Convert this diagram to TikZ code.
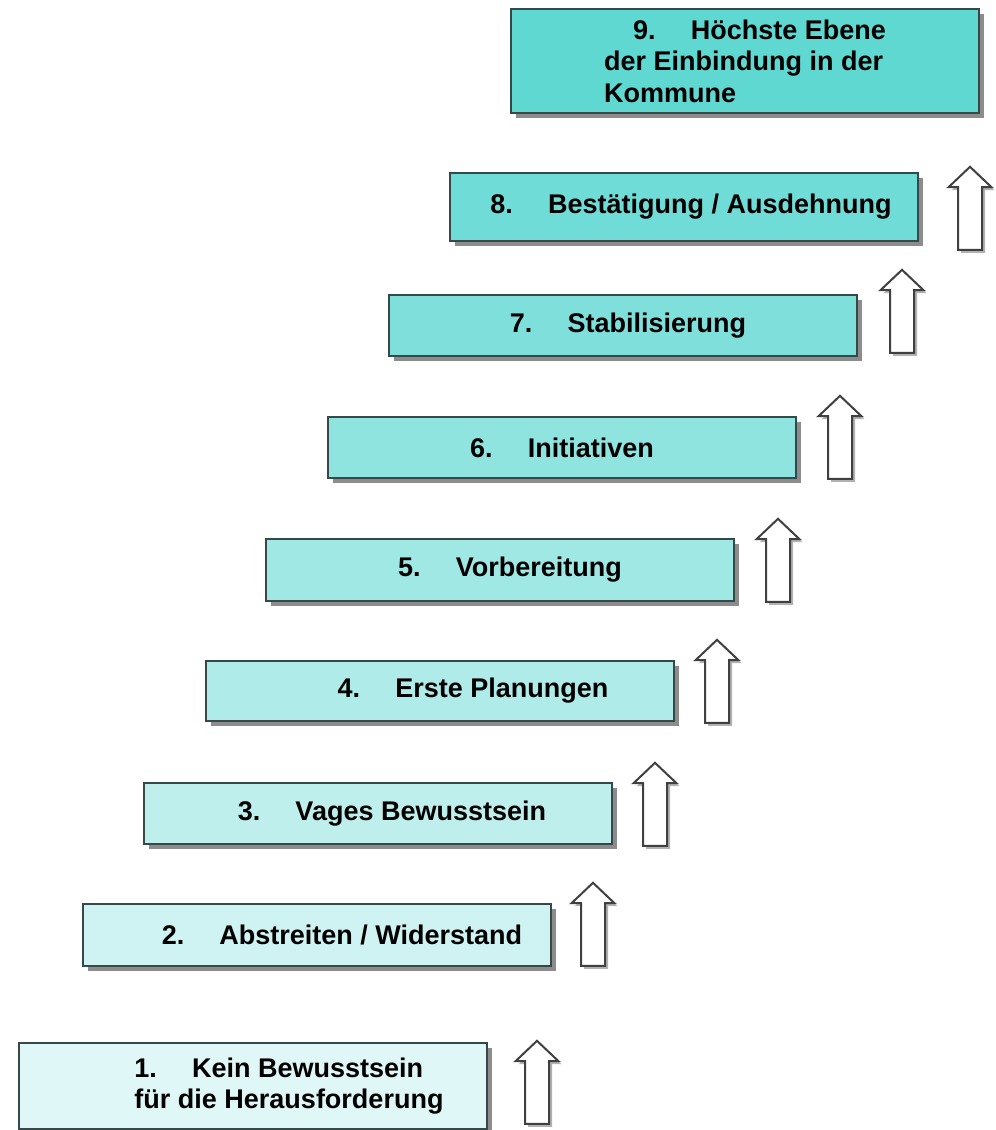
\documentclass[tikz,border=0pt]{standalone}
\usepackage{fontspec}
\setmainfont{Liberation Sans}
\usetikzlibrary{positioning,shapes.arrows,shadows}
\definecolor{turq}{RGB}{95,216,210}
\definecolor{rim}{RGB}{55,72,72}
\newcommand{\stufe}[1]{#1.\hspace{1.3em}}

\begin{document}
\begin{tikzpicture}[x=0.5pt, y=-0.5pt,
        every node/.style={font=\bfseries\fontsize{13.5}{15.8}\selectfont},
        box/.style={draw=rim, line width=1pt, anchor=north west, minimum width=234pt, align=left, inner sep=0pt,
          drop shadow={shadow xshift=2.5pt, shadow yshift=-2.5pt, fill=black!45, opacity=1}},
        uparr/.style={single arrow, shape border rotate=90, draw=black!75, fill=white, line width=1pt,
          minimum height=41.5pt, minimum width=20.5pt, single arrow head extend=4.75pt, single arrow tip angle=93, inner sep=5.5pt,
          drop shadow={shadow xshift=1.5pt, shadow yshift=-1.5pt, fill=black!30, opacity=1}}]
        \useasboundingbox (0,0) rectangle (996,1130);
        \node[box, fill=turq!20, minimum height=43pt] (s1) at (18,1042) {\hspace*{36pt}\stufe{1}Kein Bewusstsein\\\hspace*{36pt}für die Herausforderung};
        \node[box, fill=turq!30, minimum height=31pt] (s2) at (82,903) {\hspace*{25pt}\stufe{2}Abstreiten / Widerstand};
        \node[box, fill=turq!40, minimum height=30.5pt] (s3) at (143,782) {\hspace*{14pt}\stufe{3}Vages Bewusstsein};
        \node[box, fill=turq!50, minimum height=30pt] (s4) at (205,660) {\hspace*{33pt}\stufe{4}Erste Planungen};
        \node[box, fill=turq!60, minimum height=31pt] (s5) at (265,538) {\hspace*{10pt}\stufe{5}Vorbereitung};
        \node[box, fill=turq!70, minimum height=30.5pt] (s6) at (327,416) {\stufe{6}Initiativen};
        \node[box, fill=turq!80, minimum height=30.5pt] (s7) at (388,294) {\hspace*{5pt}\stufe{7}Stabilisierung};
        \node[box, fill=turq!90, minimum height=34pt] (s8) at (449,172) {\hspace*{7pt}\stufe{8}Bestätigung / Ausdehnung};
        \node[box, fill=turq, minimum height=52pt] (s9) at (510,8) {\hspace*{14.5pt}\stufe{9}Höchste Ebene\\der Einbindung in der\\Kommune};
        \node[uparr] (a1) at (537,1088) {};
        \node[uparr] (a2) at (593,930) {};
        \node[uparr] (a3) at (655,810) {};
        \node[uparr] (a4) at (717,687) {};
        \node[uparr] (a5) at (778,566) {};
        \node[uparr] (a6) at (840,443) {};
        \node[uparr] (a7) at (902,317) {};
        \node[uparr] (a8) at (970,214) {};
      \end{tikzpicture}
\end{document}
